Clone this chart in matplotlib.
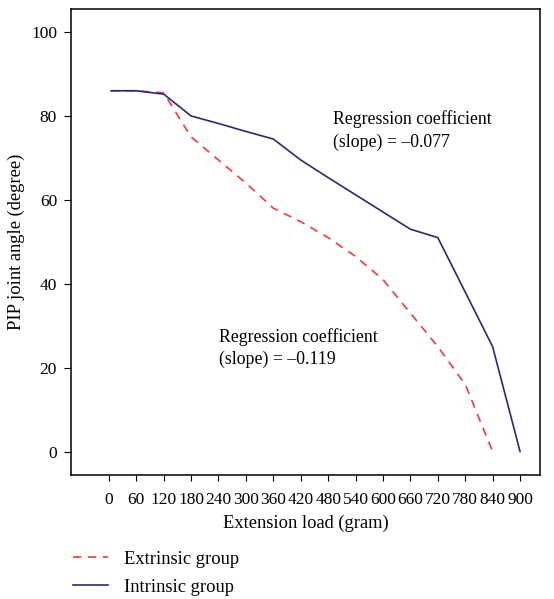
import matplotlib.pyplot as plt

plt.rcParams['font.family'] = ['Liberation Serif', 'DejaVu Serif']

load = [5, 60, 120, 180, 240, 300, 360, 420, 480, 540, 600, 660, 720, 780, 840, 900]
extrinsic = [86, 86, 85.5, 75, 69.5, 64, 58, 54.8, 51, 46.5, 41, 33, 25, 16, 0]
intrinsic = [86, 86, 85.2, 80, 78.2, 76.3, 74.5, 69.5, 65.3, 61.2, 57.1, 53, 51, 38, 25, 0]
xticks = list(range(0, 901, 60))
yticks = [0, 20, 40, 60, 80, 100]

fig = plt.figure(figsize=(5.54, 5.99), dpi=100)
ax = fig.add_axes([0.128, 0.207, 0.847, 0.778])

ax.plot(load[:len(extrinsic)], extrinsic, color='#f03a3a', linestyle=(0, (5, 4)), lw=1.2,
        label='Extrinsic group')
ax.plot(load, intrinsic, color='#2a2b6e', lw=1.2, label='Intrinsic group')

ax.set_xlim(-83, 944)
ax.set_ylim(-5.6, 105.5)
ax.set_xticks(xticks)
ax.set_yticks(yticks)
ax.tick_params(axis='x', length=4, pad=8, labelsize=12.5)
ax.tick_params(axis='y', length=5, pad=5, labelsize=12.5)
for s in ax.spines.values():
    s.set_linewidth(1.1)

ax.set_xlabel('Extension load (gram)', fontsize=13.3, labelpad=5)
ax.set_ylabel('PIP joint angle (degree)', fontsize=13.3)

ax.text(490, 81.3, 'Regression coefficient\n(slope) = \u20130.077', fontsize=12.8,
        va='top', ha='left', linespacing=1.4)
ax.text(241, 29.5, 'Regression coefficient\n(slope) = \u20130.119', fontsize=12.8,
        va='top', ha='left', linespacing=1.4)

fig.legend(loc='lower left', bbox_to_anchor=(0.119, -0.007), frameon=False, fontsize=13.3,
           handlelength=1.9, handletextpad=0.85, labelspacing=0.6, borderaxespad=0)

fig.savefig('out.png', dpi=100)
